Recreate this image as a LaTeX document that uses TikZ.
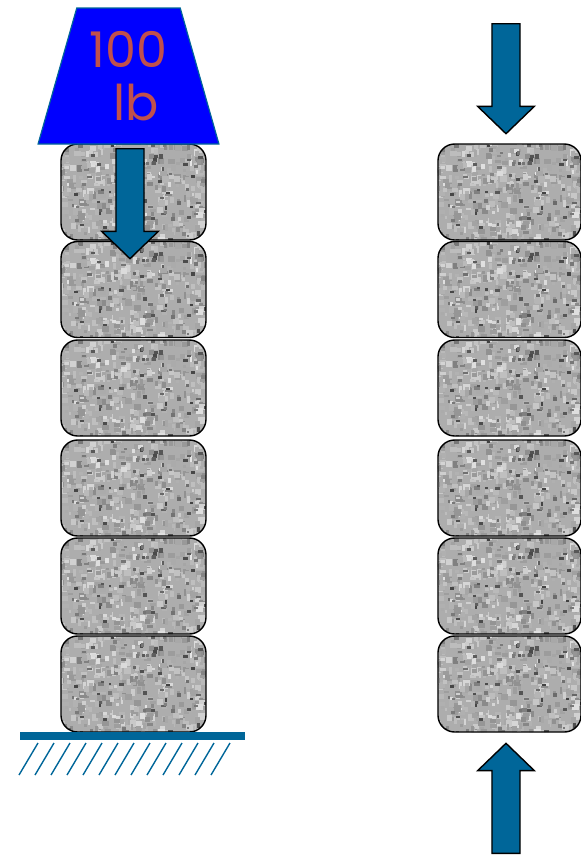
\documentclass[tikz,border=0pt]{standalone}
\usepackage{fontspec}
\setmainfont{Poppins}
\usetikzlibrary{shapes.geometric,shapes.arrows}
\definecolor{forceblue}{RGB}{0, 102, 153}
\definecolor{labelred}{RGB}{192, 80, 77}
\newcommand{\stonegrains}{%
    \pgfmathsetseed{41}
    \foreach \i in {1,...,480}{
        \pgfmathsetmacro{\grainx}{74*rand}
        \pgfmathsetmacro{\grainy}{50*rand}
        \pgfmathsetmacro{\grainw}{1.2+2.4*rnd}
        \pgfmathsetmacro{\grainh}{1.2+2.4*rnd}
        \pgfmathtruncatemacro{\grainshade}{8+23*(rnd+rnd)}
        \fill[black!\grainshade] (\grainx-\grainw,\grainy-\grainh) rectangle (\grainx+\grainw,\grainy+\grainh);
    }
    \foreach \i in {1,...,70}{
        \pgfmathsetmacro{\grainx}{74*rand}
        \pgfmathsetmacro{\grainy}{50*rand}
        \pgfmathsetmacro{\grainw}{1+1.3*rnd}
        \pgfmathsetmacro{\grainh}{1+1.3*rnd}
        \pgfmathtruncatemacro{\grainshade}{50+25*rnd}
        \fill[black!\grainshade] (\grainx-\grainw,\grainy-\grainh) rectangle (\grainx+\grainw,\grainy+\grainh);
    }%
}

\begin{document}
\begin{tikzpicture}[
    x=0.03cm, y=-0.03cm,
    block/.style={rectangle, rounded corners=0.5cm, draw=black, line width=1.2pt, fill=black!32,
        minimum width=4.35cm, minimum height=2.88cm, inner sep=0pt,
        path picture={\begin{scope}[sharp corners, shift={(path picture bounding box.center)}]\stonegrains\end{scope}}},
    rightblock/.style={block, minimum width=4.29cm},
    force/.style={shape=single arrow, draw=black, line width=1.2pt, fill=forceblue, inner sep=0.4cm,
        minimum height=3.3cm, single arrow head extend=0.43cm,
        single arrow tip angle=92, single arrow head indent=0pt},
    hatch/.style={draw=forceblue, line width=1.2pt}
]
\useasboundingbox (0,0) rectangle (581,855);

% Left column
\node[block] (left1) at (133.5,192) {};
\node[block] (left2) at (133.5,289.5) {};
\node[block] (left3) at (133.5,388) {};
\node[block] (left4) at (133.5,488) {};
\node[block] (left5) at (133.5,586) {};
\node[block] (left6) at (133.5,684) {};

% Right column
\node[rightblock] (right1) at (509.5,192) {};
\node[rightblock] (right2) at (509.5,289.5) {};
\node[rightblock] (right3) at (509.5,388) {};
\node[rightblock] (right4) at (509.5,488) {};
\node[rightblock] (right5) at (509.5,586) {};
\node[rightblock] (right6) at (509.5,684) {};

% Weight
\node[shape=trapezium, trapezium left angle=72, trapezium right angle=72, draw=forceblue, line width=1pt,
    fill=blue, text=labelred, inner sep=0pt, minimum height=4.08cm, trapezium stretches=true, minimum width=5.43cm,
    font=\fontsize{42}{54}\selectfont, align=center] (weight) at (128.5,76) {\raisebox{-7pt}{100}\\[-2pt]\hspace*{13pt}lb};

% Forces
\node[force, shape border rotate=270, anchor=tail] (forceleft) at (130,148) {};
\node[force, shape border rotate=270, anchor=tail] (forcetop) at (506,23) {};
\node[force, shape border rotate=90, anchor=tail] (forcebottom) at (506,854) {};

% Ground
\fill[forceblue] (20,732) rectangle (245,740);
\foreach \n in {0,...,12}
    \draw[hatch] ({19+16*\n},775) -- ({38+16*\n},743);

\end{tikzpicture}
\end{document}
